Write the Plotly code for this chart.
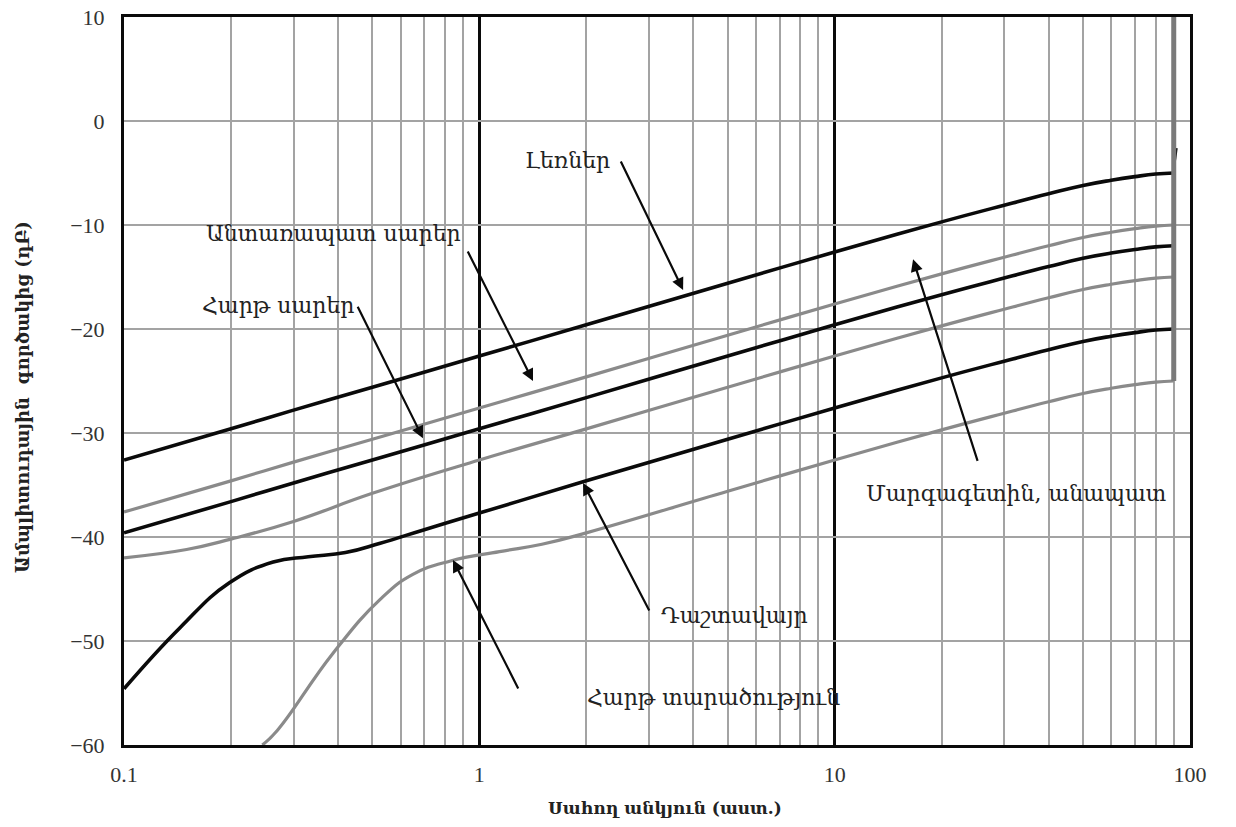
import math
import plotly.graph_objects as go

# Grazing angle (deg) sample points for each terrain curve
angle_main = [0.1, 0.2, 0.3, 0.5, 1, 2, 5, 10, 20, 30, 40, 50, 60, 70, 80, 90]

mountains = [-32.6, -29.6, -27.8, -25.6, -22.6, -19.6, -15.6, -12.6, -9.7, -8.1, -7.0, -6.2, -5.7, -5.35, -5.1, -5.0]
wooded_hills = [-37.6, -34.6, -32.8, -30.6, -27.6, -24.6, -20.6, -17.6, -14.7, -13.1, -12.0, -11.2, -10.7, -10.35, -10.1, -10.0]
rolling_hills = [-39.6, -36.6, -34.8, -32.6, -29.6, -26.6, -22.6, -19.6, -16.7, -15.1, -14.0, -13.2, -12.7, -12.35, -12.1, -12.0]

angle_meadow = [0.1, 0.15, 0.2, 0.3, 0.5, 1, 2, 5, 10, 20, 30, 40, 50, 60, 70, 80, 90]
meadow = [-42.0, -41.2, -40.2, -38.5, -35.8, -32.6, -29.6, -25.6, -22.6, -19.7, -18.1, -17.0, -16.2, -15.7, -15.35, -15.1, -15.0]

angle_plain = [0.1, 0.144, 0.198, 0.263, 0.33, 0.42, 0.526, 0.7, 1, 2, 5, 10, 20, 30, 40, 50, 60, 70, 80, 90]
plain = [-54.6, -48.7, -44.4, -42.4, -41.9, -41.5, -40.6, -39.3, -37.7, -34.6, -30.6, -27.6, -24.7, -23.1, -22.0, -21.2, -20.7, -20.35, -20.1, -20.0]

angle_flat = [0.245, 0.27, 0.387, 0.526, 0.65, 0.83, 1.14, 1.5, 2, 5, 10, 20, 30, 40, 50, 60, 70, 80, 90]
flat = [-60.0, -58.6, -51.2, -46.0, -43.6, -42.3, -41.4, -40.7, -39.6, -35.6, -32.6, -29.7, -28.1, -27.0, -26.2, -25.7, -25.35, -25.1, -25.0]

# Upper end of the flat-terrain curve at the 90 deg limit
limit_angle = [90, 90]
limit_level = [-25.0, 10.0]
limit_tail_angle = [90, 91.6]
limit_tail_level = [-4.6, -2.6]

BLACK = "#0a0a0a"
GRAY = "#8a8a8a"

fig = go.Figure()

def curve(xs, ys, color, width):
    fig.add_trace(go.Scatter(
        x=xs, y=ys, mode="lines",
        line=dict(color=color, width=width, shape="spline", smoothing=1.3),
        hoverinfo="skip", showlegend=False,
    ))

curve(angle_flat, flat, GRAY, 3.2)
curve(angle_plain, plain, BLACK, 3.6)
curve(angle_meadow, meadow, GRAY, 3.2)
curve(angle_main, rolling_hills, BLACK, 3.6)
curve(angle_main, wooded_hills, GRAY, 3.2)
curve(angle_main, mountains, BLACK, 3.6)

fig.add_trace(go.Scatter(x=limit_tail_angle, y=limit_tail_level, mode="lines",
                         line=dict(color=BLACK, width=2.5), hoverinfo="skip", showlegend=False))
fig.add_trace(go.Scatter(x=limit_angle, y=limit_level, mode="lines",
                         line=dict(color="#7a7a7a", width=5), hoverinfo="skip", showlegend=False))

LABEL_FONT = dict(family="DejaVu Serif", size=22, color="#222222")

# (text, text x, text y, arrow tip x, arrow tip y, tail dx px, tail dy px)
labels = [
    ("Լեռներ", 1.765, -3.75, 3.745, -16.25, -63, -130),
    ("Անտառապատ սարեր", 0.3876, -10.77, 1.416, -25.0, -66, -131),
    ("Հարթ սարեր", 0.2713, -17.7, 0.694, -30.5, -66, -133),
    ("Մարգագետին, անապատ", 32.4, -35.8, 16.62, -13.3, 65, 203),
    ("Դաշտավայր", 5.21, -47.5, 1.958, -34.8, 67, 129),
    ("Հարթ տարածություն", 4.55, -55.4, 0.843, -42.2, 66, 130),
]

annotations = []
for text, tx, ty, ax_, ay_, dx, dy in labels:
    annotations.append(dict(
        x=math.log10(tx), y=ty, xref="x", yref="y", text=text,
        showarrow=False, font=LABEL_FONT,
    ))
    annotations.append(dict(
        x=math.log10(ax_), y=ay_, xref="x", yref="y", text="",
        showarrow=True, ax=dx, ay=dy, arrowhead=2, arrowsize=1.1,
        arrowwidth=2.2, arrowcolor=BLACK, standoff=0,
    ))

annotations.append(dict(
    x=0.5075, y=-0.0865, xref="paper", yref="paper", xanchor="center", yanchor="middle",
    text="<b>Սահող անկյուն (աստ.)</b>", showarrow=False,
    font=dict(family="DejaVu Serif", size=17, color="#222222"),
))
annotations.append(dict(
    x=-0.0957, y=0.478, xref="paper", yref="paper", xanchor="center", yanchor="middle",
    text="<b>Ամպլիտուդային  գործակից (դԲ)</b>", showarrow=False, textangle=-90,
    font=dict(family="DejaVu Serif", size=18, color="#222222"),
))

fig.update_layout(
    width=1236, height=827,
    margin=dict(l=124, r=46, t=17, b=82),
    paper_bgcolor="white", plot_bgcolor="white",
    annotations=annotations,
)

fig.update_xaxes(
    type="log", range=[-1, 2], automargin=False,
    tickvals=[0.1, 1, 10, 100], ticktext=["0.1", "1", "10", "100"],
    showgrid=True, gridcolor=BLACK, gridwidth=2.5,
    minor=dict(dtick="D1", showgrid=True, gridcolor="#a3a3a3", gridwidth=1.5, ticks=""),
    showline=True, linecolor=BLACK, linewidth=3, mirror=True,
    ticks="", zeroline=False, ticklabelstandoff=8,
    tickfont=dict(family="Liberation Serif", size=22, color="#333333"),
)
fig.update_yaxes(
    range=[-60, 10], dtick=10, automargin=False,
    showgrid=True, gridcolor="#a3a3a3", gridwidth=1.5,
    showline=True, linecolor=BLACK, linewidth=3, mirror=True,
    ticks="", zeroline=False, ticklabelstandoff=12,
    tickfont=dict(family="Liberation Serif", size=22, color="#333333"),
)

fig.write_html("out.html")
